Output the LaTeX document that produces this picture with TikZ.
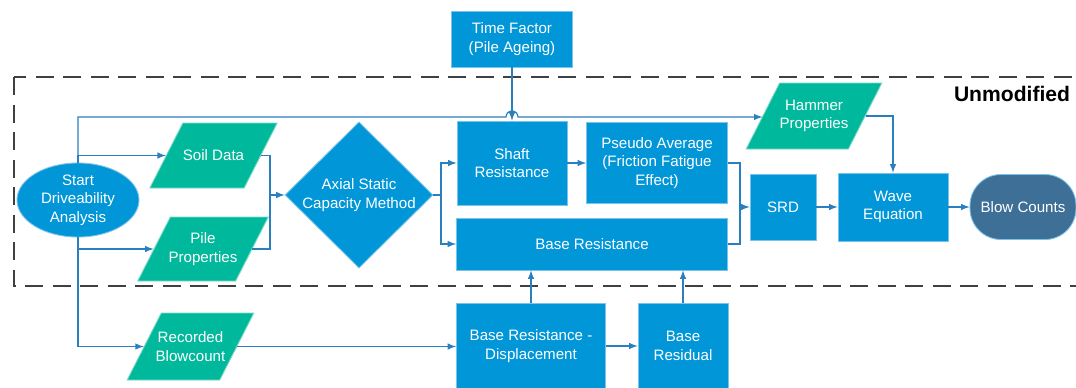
\documentclass[tikz,border=0pt]{standalone}
\usepackage{fontspec}
\setmainfont{Liberation Sans}
\usetikzlibrary{shapes.geometric}
\definecolor{boxblue}{HTML}{0096D8}
\definecolor{boxedge}{HTML}{7CC3EA}
\definecolor{datagreen}{HTML}{00B99C}
\definecolor{dataedge}{HTML}{7ED9C9}
\definecolor{blowblue}{HTML}{3E6F96}
\definecolor{linecol}{HTML}{2A7FBE}
\definecolor{dashcol}{HTML}{404040}

\begin{document}
\begin{tikzpicture}
\tikzset{>=latex}
\tikzset{
  proc/.style={rectangle,fill=boxblue,draw=boxedge,line width=0.5pt,text=white,
    align=center,inner sep=0pt,font=\fontsize{8.6}{10.6}\selectfont},
  datain/.style={trapezium,trapezium left angle=63,trapezium right angle=117,
    trapezium stretches body,fill=datagreen,draw=dataedge,line width=0.5pt,text=white,
    align=center,inner xsep=0pt,font=\fontsize{8.6}{10.6}\selectfont},
  link/.style={draw=linecol,line width=0.65pt},
}

\useasboundingbox[fill=white] (0,0) rectangle (21.52,-7.76);

% the unmodified part
\draw[dashcol,line width=1.4pt,dash pattern=on 0.36cm off 0.19cm] (0.28,-1.54) rectangle (21.8,-5.72);
\node[font=\fontsize{12}{14}\bfseries\selectfont] (unmod) at (20.24,-1.88) {Unmodified};

\node[ellipse,fill=boxblue,draw=boxedge,line width=0.5pt,text=white,align=center,inner sep=0pt,
  minimum width=2.44cm,minimum height=1.48cm,font=\fontsize{8.6}{10.6}\selectfont] (start) at (1.56,-4.00) {Start\\Driveability\\Analysis};

\node[datain,inner ysep=15.3pt,minimum width=2.5cm,minimum height=1.3cm] (soil) at (4.27,-3.11) {Soil Data};
\node[datain,inner ysep=8.9pt,inner xsep=-1pt,minimum width=2.56cm,minimum height=1.28cm] (pile) at (4.06,-4.98) {Pile\\Properties};
\node[datain,inner ysep=10.6pt,inner xsep=-3.2pt,minimum width=2.5cm,minimum height=1.34cm] (rec) at (3.81,-6.93) {Recorded\\Blowcount};
\node[datain,inner ysep=9.5pt,minimum width=2.64cm,minimum height=1.32cm] (hammer) at (16.28,-2.32) {Hammer\\Properties};

\node[diamond,fill=boxblue,draw=boxedge,line width=0.5pt,text=white,align=center,inner sep=0pt,
  minimum width=2.96cm,minimum height=2.88cm,font=\fontsize{8.6}{10.6}\selectfont] (acm) at (7.18,-3.90) {Axial Static\\Capacity Method};

\node[proc,minimum width=2.42cm,minimum height=1.12cm] (time) at (10.24,-0.78) {Time Factor\\(Pile Ageing)};
\node[proc,minimum width=2.2cm,minimum height=1.68cm] (shaft) at (10.24,-3.26) {Shaft\\Resistance};
\node[proc,minimum width=2.82cm,minimum height=1.62cm] (pseudo) at (13.14,-3.26) {Pseudo Average\\(Friction Fatigue\\Effect)};
\node[proc,minimum width=5.42cm,minimum height=1.04cm] (base) at (11.84,-4.88) {Base Resistance};
\node[proc,minimum width=1.32cm,minimum height=1.32cm] (srd) at (15.66,-4.14) {SRD};
\node[proc,minimum width=2.2cm,minimum height=1.36cm] (wave) at (17.86,-4.14) {Wave\\Equation};
\node[rectangle,rounded corners=0.62cm,fill=blowblue,draw=boxedge,line width=0.5pt,text=white,
  minimum width=2.12cm,minimum height=1.3cm,font=\fontsize{8.6}{10.6}\selectfont] (blow) at (20.46,-4.14) {Blow Counts};
\node[proc,minimum width=2.98cm,minimum height=1.72cm] (brd) at (10.62,-6.92) {Base Resistance -\\Displacement};
\node[proc,minimum width=1.8cm,minimum height=1.72cm] (resid) at (13.66,-6.92) {Base\\Residual};

\coordinate (hopL) at (10.12,-2.34);
\coordinate (m1) at (5.40,-3.90);
\coordinate (m2) at (8.82,-3.90);
\coordinate (m3) at (14.80,-4.14);

\draw[link,->] (start.north) |- (hopL) arc[start angle=180,end angle=0,radius=0.12] -- (hammer.west |- hopL);
\draw[link,->] (start.north) |- (soil.west);
\draw[link,->] (start.south) |- (pile.west);
\draw[link,->] (start.south) |- (rec.west);

\draw[link] (soil.east) -| (m1);
\draw[link] (pile.east) -| (m1);
\draw[link,->] (m1) -- (acm.west);

\draw[link] (acm.east) -- (m2);
\draw[link,->] (m2) |- (shaft.west);
\draw[link,->] (m2) |- (base.west);

\draw[link,->] (time.south) -- (shaft.north);
\draw[link,->] (shaft.east) -- (pseudo.west);

\draw[link] (pseudo.east) -| (m3);
\draw[link] (base.east) -| (m3);
\draw[link,->] (m3) -- (srd.west);

\draw[link,->] (hammer.east) -| (wave.north);
\draw[link,->] (srd.east) -- (wave.west);
\draw[link,->] (wave.east) -- (blow.west);

\draw[link,->] (rec.east) -- (rec.east -| brd.west);
\draw[link,->] (brd.east) -- (brd.east -| resid.west);
\draw[link,->] (brd.north) -- (brd.north |- base.south);
\draw[link,->] (resid.north) -- (resid.north |- base.south);

\end{tikzpicture}
\end{document}
